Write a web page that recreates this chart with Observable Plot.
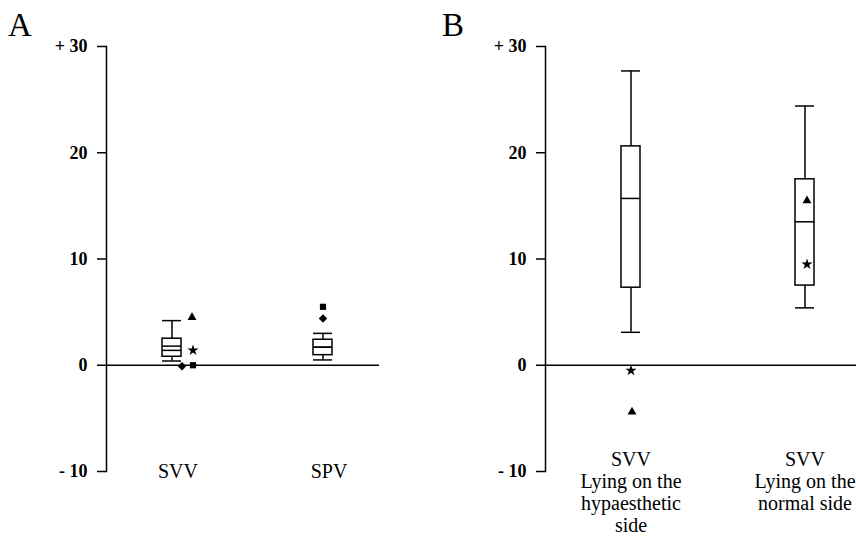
<!DOCTYPE html>
<html>
<head>
<meta charset="utf-8">
<script src="https://cdn.jsdelivr.net/npm/d3@7"></script>
<script src="https://cdn.jsdelivr.net/npm/@observablehq/plot@0.6"></script>
<style>
  html, body { margin: 0; padding: 0; background: #fff; }
  #wrap { position: relative; width: 856px; height: 536px; overflow: hidden; background: #fff;
          font-family: "Liberation Serif", "Times New Roman", serif; color: #000; }
  .panel { position: absolute; top: 0; z-index: 1; }
  .letter { position: absolute; font-size: 33px; line-height: 32px; z-index: 2; }
</style>
</head>
<body>
<div id="wrap">
  <div id="pA" class="panel" style="left:0px;"></div>
  <div id="pB" class="panel" style="left:430px;"></div>
  <div class="letter" style="left:8px; top:9px;">A</div>
  <div class="letter" style="left:442px; top:9px;">B</div>
</div>
<script>
// ---- Y axis ticks ----
const yTicks = [-10, 0, 10, 20, 30];
const yTickLabels = ["- 10", "0", "10", "20", "+ 30"];

// ---- Panel A: box statistics ----
const catsA = ["SVV", "SPV"];
const A_low    = [0.4, 0.5];
const A_q1     = [0.8, 0.95];
const A_line1  = [1.4, 1.7];
const A_line2  = [1.8, 1.7];
const A_q3     = [2.5, 2.4];
const A_high   = [4.2, 3.0];

// Panel A: individual patients (symbol series)
const A_triangle = [{cat: "SVV", v: 4.5}];
const A_star     = [{cat: "SVV", v: 1.4}];
const A_square   = [{cat: "SVV", v: 0.0}, {cat: "SPV", v: 5.5}];
const A_diamond  = [{cat: "SVV", v: -0.1}, {cat: "SPV", v: 4.4}];

// ---- Panel B: box statistics ----
const catsB = ["SVV\nLying on the\nhypaesthetic\nside", "SVV\nLying on the\nnormal side"];
const B_low    = [3.1, 5.4];
const B_q1     = [7.3, 7.5];
const B_median = [15.7, 13.5];
const B_q3     = [20.6, 17.5];
const B_high   = [27.7, 24.4];

// Panel B: individual patients
const B_star     = [{cat: 0, v: -0.5}, {cat: 1, v: 9.5}];
const B_triangle = [{cat: 0, v: -4.4}, {cat: 1, v: 15.5}];

const FONT = "'Liberation Serif', 'Times New Roman', serif";
const SW = 1.5;

function boxMarks(rows, lines) {
  const m = [
    Plot.ruleX(rows, {x: "cat", y1: "q3", y2: "high", stroke: "black", strokeWidth: SW}),
    Plot.ruleX(rows, {x: "cat", y1: "low", y2: "q1", stroke: "black", strokeWidth: SW}),
    Plot.tickY(rows, {x: "cat", y: "high", stroke: "black", strokeWidth: SW}),
    Plot.tickY(rows, {x: "cat", y: "low", stroke: "black", strokeWidth: SW}),
    Plot.barY(rows, {x: "cat", y1: "q1", y2: "q3", fill: "white", stroke: "black", strokeWidth: SW})
  ];
  for (const k of lines) m.push(Plot.tickY(rows, {x: "cat", y: k, stroke: "black", strokeWidth: SW}));
  return m;
}

function yAxisMarks() {
  return [
    Plot.frame({anchor: "left", stroke: "black", strokeWidth: SW}),
    Plot.axisY({
      ticks: yTicks,
      tickFormat: d => yTickLabels[yTicks.indexOf(d)],
      tickSize: 9, tickPadding: 10,
      fontWeight: "bold", fontSize: 18,
      stroke: "black", strokeWidth: SW, label: null
    }),
    Plot.ruleY([0], {stroke: "black", strokeWidth: 1.7})
  ];
}

function boldTicks(svg) {
  d3.select(svg).selectAll('g[aria-label="y-axis tick label"] text, g[aria-label="y-axis tick label"]')
    .style("font-size", "18px").style("font-weight", "bold");
}

// ---------- Panel A ----------
const rowsA = catsA.map((c, i) => ({cat: c, low: A_low[i], q1: A_q1[i], l1: A_line1[i], l2: A_line2[i], q3: A_q3[i], high: A_high[i]}));

const plotA = Plot.plot({
  width: 430, height: 536,
  marginLeft: 106, marginRight: 51, marginTop: 46, marginBottom: 65,
  style: {fontFamily: FONT, fontSize: "20px", background: "transparent", color: "black", overflow: "visible"},
  x: {type: "band", domain: catsA, range: [162.2, 331.8], paddingInner: 0.877, paddingOuter: 0, axis: null},
  y: {domain: [-10, 30], axis: null},
  marks: [
    ...yAxisMarks(),
    ...boxMarks(rowsA, ["l1", "l2"]),
    Plot.dot(A_triangle, {x: "cat", y: "v", symbol: "triangle", r: 3.3, fill: "black", dx: 20}),
    Plot.dot(A_star, {x: "cat", y: "v", symbol: "star", r: 3.5, fill: "black", dx: 21}),
    Plot.dot(A_square.filter(d => d.cat === "SVV"), {x: "cat", y: "v", symbol: "square", r: 3.5, fill: "black", dx: 21}),
    Plot.dot(A_square.filter(d => d.cat === "SPV"), {x: "cat", y: "v", symbol: "square", r: 3.5, fill: "black", dx: 0}),
    Plot.dot(A_diamond.filter(d => d.cat === "SVV"), {x: "cat", y: "v", symbol: "diamond2", r: 3.8, fill: "black", dx: 10}),
    Plot.dot(A_diamond.filter(d => d.cat === "SPV"), {x: "cat", y: "v", symbol: "diamond2", r: 3.8, fill: "black", dx: 0}),
    Plot.text(catsA, {x: d => d, text: d => d, frameAnchor: "bottom", lineAnchor: "middle", dx: 6, fontSize: 20, fill: "black"})
  ]
});
boldTicks(plotA);
document.getElementById("pA").appendChild(plotA);

// ---------- Panel B ----------
const rowsB = catsB.map((c, i) => ({cat: c, low: B_low[i], q1: B_q1[i], med: B_median[i], q3: B_q3[i], high: B_high[i]}));

const plotB = Plot.plot({
  width: 426, height: 536,
  marginLeft: 115, marginRight: 0, marginTop: 46, marginBottom: 65,
  style: {fontFamily: FONT, fontSize: "20px", background: "transparent", color: "black", overflow: "visible"},
  x: {type: "band", domain: catsB, range: [190.65, 384.45], paddingInner: 0.889, paddingOuter: 0, axis: null},
  y: {domain: [-10, 30], axis: null},
  marks: [
    ...yAxisMarks(),
    ...boxMarks(rowsB, ["med"]),
    Plot.dot(B_star.filter(d => d.cat === 0), {x: d => catsB[d.cat], y: "v", symbol: "star", r: 3.5, fill: "black", dx: 0}),
    Plot.dot(B_triangle.filter(d => d.cat === 0), {x: d => catsB[d.cat], y: "v", symbol: "triangle", r: 3.3, fill: "black", dx: 1}),
    Plot.dot(B_star.filter(d => d.cat === 1), {x: d => catsB[d.cat], y: "v", symbol: "star", r: 3.5, fill: "black", dx: 2}),
    Plot.dot(B_triangle.filter(d => d.cat === 1), {x: d => catsB[d.cat], y: "v", symbol: "triangle", r: 3.3, fill: "black", dx: 2}),
    Plot.text(catsB, {x: d => d, text: d => d, frameAnchor: "bottom", lineAnchor: "top", dy: -21, lineHeight: 1.1, fontSize: 20, fill: "black"})
  ]
});
boldTicks(plotB);
document.getElementById("pB").appendChild(plotB);
</script>
</body>
</html>
